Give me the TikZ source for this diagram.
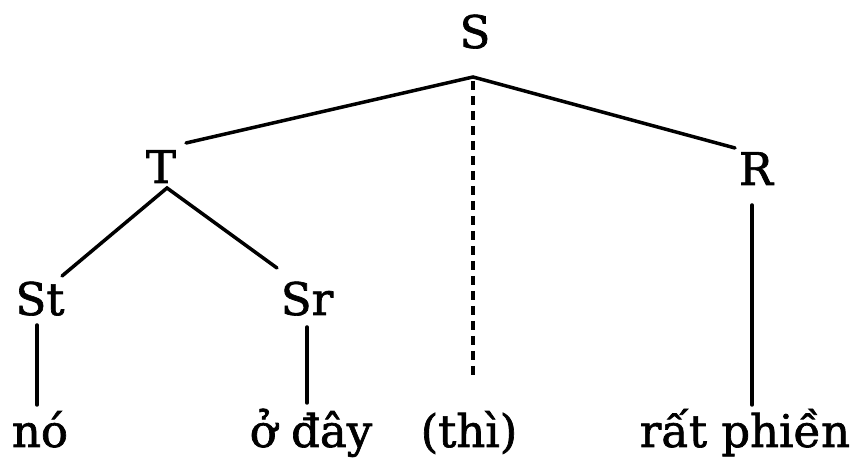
\documentclass[tikz,border=0pt]{standalone}
\usepackage{fontspec}
\setmainfont{DejaVu Serif}[FakeBold=1.5]
\begin{document}
\begin{tikzpicture}[x=1pt,y=1pt,
  lbl/.style={font=\fontsize{45}{54}\selectfont, inner sep=0pt, anchor=base},
  edge/.style={line width=3.5pt, line cap=round},
  dashedge/.style={line width=3.5pt, dash pattern=on 9pt off 6pt}]
\useasboundingbox (0,0) rectangle (853,462);
\node[lbl] (S) at (475,414) {S};
\node[lbl] (T) at (161,279) {T};
\node[lbl] (R) at (756,277) {R};
\node[lbl] (St) at (40,147) {St};
\node[lbl] (Sr) at (307,147) {Sr};
\node[lbl] (no) at (40,15) {nó};
\node[lbl] (oday) at (311,15) {ở đây};
\node[lbl] (thi) at (469,15) {(thì)};
\node[lbl] (ratphien) at (745,15) {rất phiền};
\coordinate (Sj) at (473,385);
\coordinate (Tl) at (186,319);
\coordinate (Rl) at (735,314);
\coordinate (Tj) at (167,274);
\coordinate (Stl) at (62,186);
\coordinate (Srl) at (277,194);
\coordinate (Stt) at (37,137);
\coordinate (Stb) at (37,57);
\coordinate (Srt) at (307,135);
\coordinate (Srb) at (307,59);
\coordinate (Rt) at (752,257);
\coordinate (Rb) at (752,57);
\coordinate (Dt) at (473,381);
\coordinate (Db) at (473,82);
\draw[edge] (Tl) -- (Sj) -- (Rl);
\draw[edge] (Stl) -- (Tj) -- (Srl);
\draw[edge] (Stt) -- (Stb);
\draw[edge] (Srt) -- (Srb);
\draw[edge] (Rt) -- (Rb);
\draw[dashedge] (Dt) -- (Db);
\end{tikzpicture}
\end{document}
